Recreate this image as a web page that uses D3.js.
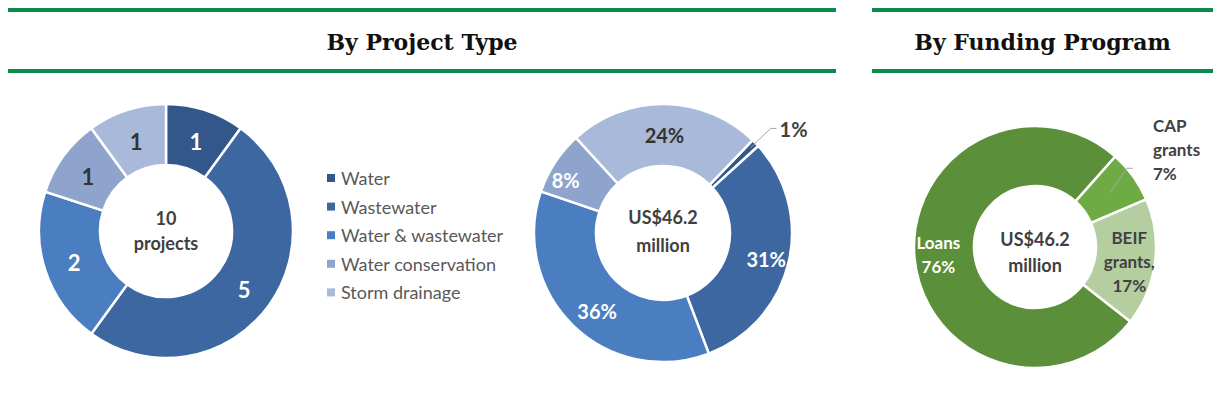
<!DOCTYPE html>
<html>
<head>
<meta charset="utf-8">
<script src="https://cdn.jsdelivr.net/npm/d3@7"></script>
<style>
  body { margin: 0; background: #fff; }
  svg text { font-family: Lato, "Open Sans", sans-serif; }
</style>
</head>
<body>
<div id="chart"></div>
<script>
// data
const typeCategories = ["Water", "Wastewater", "Water & wastewater", "Water conservation", "Storm drainage"]
const projectCounts = [1, 5, 2, 1, 1]
const fundingShares = [1, 31, 36, 8, 24]
const programNames = ["Loans", "CAP grants", "BEIF grants"]
const programShares = [76, 7, 17]
const totalProjects = 10
const totalFunding = "US$46.2"

const typeColors = ["#33578a", "#3d67a0", "#4a7ec0", "#8ea4cd", "#a9b9da"]
const programColors = ["#5b8f39", "#6eab45", "#b4cea0"]

const w = 1213
const h = 406
const deg = Math.PI / 180

const svg = d3.select('#chart')
              .append('svg')
              .attr('width', w)
              .attr('height', h)

// header bands
const green = "#0b8b4b"
const headers = [
  {x0: 8, x1: 836, title: "By Project Type"},
  {x0: 872, x1: 1213, title: "By Funding Program"}
]
headers.forEach(hd => {
  svg.append("rect").attr("x", hd.x0).attr("y", 8).attr("width", hd.x1 - hd.x0).attr("height", 4).attr("fill", green)
  svg.append("rect").attr("x", hd.x0).attr("y", 69).attr("width", hd.x1 - hd.x0).attr("height", 4).attr("fill", green)
  svg.append("text")
     .attr("x", (hd.x0 + hd.x1) / 2)
     .attr("y", 50)
     .attr("text-anchor", "middle")
     .style("font-family", "'DejaVu Serif', serif")
     .style("font-weight", "bold")
     .style("font-size", "22px")
     .attr("fill", "#111")
     .text(hd.title)
})

function donut(cx, cy, rIn, rOut, values, colors, start) {
  const g = svg.append("g").attr("transform", `translate(${cx},${cy})`)
  const pie = d3.pie().sort(null).startAngle(start).endAngle(start + 2 * Math.PI)
  const arc = d3.arc().innerRadius(rIn).outerRadius(rOut)
  const arcs = pie(values)
  g.selectAll("path")
   .data(arcs)
   .enter()
   .append("path")
   .attr("d", arc)
   .attr("fill", (d, i) => colors[i])
   .attr("stroke", "#fff")
   .attr("stroke-width", 2.5)
  return {g, arcs, arc}
}

function centerText(g, lines, y0, step) {
  lines.forEach((t, i) => {
    g.append("text")
     .attr("y", y0 + i * step)
     .attr("text-anchor", "middle")
     .attr("dominant-baseline", "central")
     .style("font-weight", "bold")
     .style("font-size", "18px")
     .attr("fill", "#404040")
     .text(t)
  })
}

// donut 1: project counts
const d1 = donut(166, 231, 66, 127, projectCounts, typeColors, 0)
const d1text = ["#fff", "#fff", "#fff", "#333", "#333"]
d1.g.selectAll("text.lbl")
  .data(d1.arcs)
  .enter()
  .append("text")
  .attr("class", "lbl")
  .attr("x", d => d1.arc.centroid(d)[0])
  .attr("y", d => d1.arc.centroid(d)[1] + 2)
  .attr("text-anchor", "middle")
  .attr("dominant-baseline", "central")
  .style("font-weight", "bold")
  .style("font-size", "22px")
  .attr("fill", (d, i) => d1text[i])
  .text(d => d.data)
centerText(d1.g, [String(totalProjects), "projects"], -13, 25)

// legend
const legend = svg.append("g").attr("transform", "translate(327,178)")
typeCategories.forEach((c, i) => {
  legend.append("rect").attr("x", 0).attr("y", i * 28.6 - 4).attr("width", 8).attr("height", 8).attr("fill", typeColors[i])
  legend.append("text")
        .attr("x", 14)
        .attr("y", i * 28.6)
        .attr("dominant-baseline", "central")
        .style("font-size", "18px")
        .attr("fill", "#595959")
        .text(c)
})

// donut 2: funding by type
const d2 = donut(663, 233, 67, 129, fundingShares, typeColors, 44 * deg)
const d2text = [null, "#fff", "#fff", "#fff", "#333"]
const lblArc2 = d3.arc().innerRadius(72).outerRadius(132)
const d2nudge = [[0, 0], [4, 2], [5, 5], [-12, 3], [0, 4]]
d2.g.selectAll("text.lbl")
  .data(d2.arcs.filter((d, i) => d2text[i]))
  .enter()
  .append("text")
  .attr("class", "lbl")
  .attr("x", d => lblArc2.centroid(d)[0] + d2nudge[d.index][0])
  .attr("y", d => lblArc2.centroid(d)[1] + d2nudge[d.index][1])
  .attr("text-anchor", "middle")
  .attr("dominant-baseline", "central")
  .style("font-weight", "bold")
  .style("font-size", "20px")
  .attr("fill", d => d2text[d.index])
  .text(d => d.data + "%")
// leader for the tiny slice
{
  const a = d2.arcs[0]
  const m = (a.startAngle + a.endAngle) / 2
  const p0 = [Math.sin(m) * 122, -Math.cos(m) * 122]
  const p1 = [Math.sin(m) * 150, -Math.cos(m) * 150]
  const p2 = [p1[0] + 6, p1[1]]
  d2.g.append("polyline")
      .attr("points", [p0, p1, p2].map(p => p.join(",")).join(" "))
      .attr("fill", "none")
      .attr("stroke", "#a6a6a6")
      .attr("stroke-width", 1)
  d2.g.append("text")
      .attr("x", p2[0] + 3)
      .attr("y", p2[1] + 1)
      .attr("dominant-baseline", "central")
      .style("font-weight", "bold")
      .style("font-size", "20px")
      .attr("fill", "#404040")
      .text(a.data + "%")
}
centerText(d2.g, [totalFunding, "million"], -16, 28)

// donut 3: funding program
const d3n = donut(1035, 247, 61, 121, programShares, programColors, 128 * deg)
centerText(d3n.g, [totalFunding, "million"], -8, 26)
const progLines = [
  [programNames[0], programShares[0] + "%"],
  ["CAP", "grants", programShares[1] + "%"],
  ["BEIF", "grants,", programShares[2] + "%"]
]
function multiLabel(g, x, y, lines, anchor, color) {
  lines.forEach((t, i) => {
    g.append("text")
     .attr("x", x)
     .attr("y", y + (i - (lines.length - 1) / 2) * 24)
     .attr("text-anchor", anchor)
     .attr("dominant-baseline", "central")
     .style("font-weight", "bold")
     .style("font-size", "17px")
     .attr("fill", color)
     .text(t)
  })
}
{
  const c0 = d3n.arc.centroid(d3n.arcs[0])
  multiLabel(d3n.g, c0[0] - 6, c0[1] - 1, progLines[0], "middle", "#fff")
  const c2 = d3n.arc.centroid(d3n.arcs[2])
  multiLabel(d3n.g, c2[0] + 4, c2[1] + 3, progLines[2], "middle", "#404040")
  const a = d3n.arcs[1]
  const m = (a.startAngle + a.endAngle) / 2
  const p0 = [Math.sin(m) * 92, -Math.cos(m) * 92]
  const p1 = [Math.sin(m) * 138 - 20, -Math.cos(m) * 138 + 2]
  const p2 = [p1[0] + 6, p1[1]]
  d3n.g.append("polyline")
       .attr("points", [p0, p1, p2].map(p => p.join(",")).join(" "))
       .attr("fill", "none")
       .attr("stroke", "#a6a6a6")
       .attr("stroke-width", 1)
  multiLabel(d3n.g, 118, -98, progLines[1], "start", "#404040")
}
</script>
</body>
</html>
